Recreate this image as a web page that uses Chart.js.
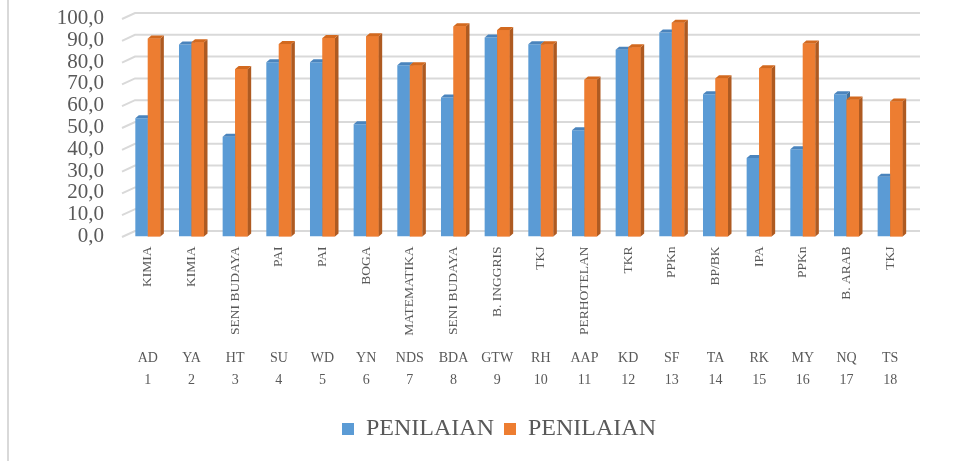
<!DOCTYPE html>
<html>
<head>
<meta charset="utf-8">
<script src="https://cdn.jsdelivr.net/npm/chart.js@4"></script>
<style>
  html, body { margin: 0; padding: 0; background: #fff; }
  #wrap { width: 976px; height: 461px; }
</style>
</head>
<body>
<div id="wrap"><canvas id="penilaianChart" width="976" height="461"></canvas></div>
<script>
const subjects = ["KIMIA", "KIMIA", "SENI BUDAYA", "PAI", "PAI", "BOGA", "MATEMATIKA", "SENI BUDAYA", "B. INGGRIS",
  "TKJ", "PERHOTELAN", "TKR", "PPKn", "BP/BK", "IPA", "PPKn", "B. ARAB", "TKJ"];
const initials = ["AD", "YA", "HT", "SU", "WD", "YN", "NDS", "BDA", "GTW", "RH", "AAP", "KD", "SF", "TA", "RK", "MY", "NQ", "TS"];
const numbers = ["1", "2", "3", "4", "5", "6", "7", "8", "9", "10", "11", "12", "13", "14", "15", "16", "17", "18"];
const penilaian1 = [54.3, 88.1, 45.7, 79.9, 79.9, 51.5, 78.6, 63.8, 91.3, 88.2, 48.7, 85.7, 93.6, 65.2, 36.0, 40.0, 65.2, 27.4];
const penilaian2 = [90.8, 89.1, 76.8, 88.3, 91.1, 91.9, 78.6, 96.4, 94.7, 88.2, 72.0, 86.8, 98.1, 72.6, 77.2, 88.5, 62.9, 61.9];
const yTickLabels = ["0,0", "10,0", "20,0", "30,0", "40,0", "50,0", "60,0", "70,0", "80,0", "90,0", "100,0"];

const serif = "'Liberation Serif', 'Times New Roman', serif";
const textColor = "#595959";

// fake 3d: back-wall gridlines, side + top faces of the columns, page frame line
const depthPlugin = {
  id: "depth",
  beforeDraw(chart) {
    const c = chart.ctx;
    c.save();
    c.strokeStyle = "#d9d9d9";
    c.lineWidth = 2;
    c.beginPath();
    c.moveTo(8, 0);
    c.lineTo(8, chart.height);
    c.stroke();
    c.restore();
  },
  beforeDatasetsDraw(chart) {
    const c = chart.ctx;
    const area = chart.chartArea;
    const y = chart.scales.y;
    c.save();
    c.strokeStyle = "#d9d9d9";
    c.lineWidth = 2;
    y.ticks.forEach(t => {
      const py = y.getPixelForValue(t.value);
      c.beginPath();
      c.moveTo(area.left - 4, py + 0.5);
      c.lineTo(area.left + 9, py - 5.5);
      c.lineTo(area.right + 8, py - 5.5);
      c.stroke();
    });
    c.restore();
  },
  afterDatasetsDraw(chart) {
    const c = chart.ctx;
    const dx = 3.5, dy = 3;
    const faces = [
      { front: "#5b9bd5", side: "#41719c", top: "#4a84bd" },
      { front: "#ed7d31", side: "#ae5a21", top: "#d2691f" }
    ];
    const metas = [chart.getDatasetMeta(0), chart.getDatasetMeta(1)];
    c.save();
    for (let i = 0; i < subjects.length; i++) {
      metas.forEach((meta, d) => {
        const bar = meta.data[i];
        const { x, y, width, base } = bar.getProps(["x", "y", "width", "base"], true);
        const l = x - width / 2, r = x + width / 2;
        if (d === 1) {
          c.fillStyle = faces[d].front;
          c.fillRect(l, y, width, base - y);
        }
        c.fillStyle = faces[d].side;
        c.beginPath();
        c.moveTo(r, y);
        c.lineTo(r + dx, y - dy);
        c.lineTo(r + dx, base - dy);
        c.lineTo(r, base);
        c.closePath();
        c.fill();
        c.fillStyle = faces[d].top;
        c.beginPath();
        c.moveTo(l, y);
        c.lineTo(l + dx, y - dy);
        c.lineTo(r + dx, y - dy);
        c.lineTo(r, y);
        c.closePath();
        c.fill();
      });
    }
    c.restore();
  }
};

const ctx = document.getElementById("penilaianChart").getContext("2d");
const chart = new Chart(ctx, {
  type: "bar",
  data: {
    labels: subjects,
    datasets: [
      {
        label: "PENILAIAN",
        data: penilaian1,
        backgroundColor: "#5b9bd5",
        borderWidth: 0,
        categoryPercentage: 0.573,
        barPercentage: 1
      },
      {
        label: "PENILAIAN",
        data: penilaian2,
        backgroundColor: "#ed7d31",
        borderWidth: 0,
        categoryPercentage: 0.573,
        barPercentage: 1
      }
    ]
  },
  options: {
    responsive: false,
    animation: false,
    devicePixelRatio: 1,
    layout: { padding: { top: 18.5, left: 22, right: 0, bottom: 10 } },
    plugins: {
      tooltip: { enabled: false },
      legend: {
        position: "bottom",
        labels: {
          boxWidth: 12,
          boxHeight: 12,
          padding: 10,
          color: textColor,
          font: { family: serif, size: 24 }
        }
      }
    },
    scales: {
      y: {
        min: 0,
        max: 100,
        ticks: {
          stepSize: 10,
          autoSkip: false,
          padding: 22,
          color: textColor,
          font: { family: serif, size: 21 },
          callback: (v, i) => yTickLabels[i]
        },
        grid: { display: false, drawTicks: false },
        border: { display: false },
        afterFit: s => {
          s.width = 104;
          s.paddingTop = 10;
          s.paddingBottom = 10;
        }
      },
      yR: {
        position: "right",
        ticks: { display: false },
        grid: { display: false, drawTicks: false },
        border: { display: false },
        afterFit: s => { s.width = 64; }
      },
      x: {
        offset: true,
        weight: 0,
        ticks: {
          autoSkip: false,
          minRotation: 90,
          maxRotation: 90,
          padding: 10,
          color: textColor,
          font: { family: serif, size: 13.5 }
        },
        grid: { display: false, drawTicks: false },
        border: { display: false },
        afterFit: s => { s.height = 111; }
      },
      x2: {
        type: "category",
        position: "bottom",
        labels: initials,
        offset: true,
        weight: 1,
        ticks: {
          autoSkip: false,
          maxRotation: 0,
          padding: 2,
          color: textColor,
          font: { family: serif, size: 14 }
        },
        grid: { display: false, drawTicks: false },
        border: { display: false },
        afterFit: s => { s.height = 22; }
      },
      x3: {
        type: "category",
        position: "bottom",
        labels: numbers,
        offset: true,
        weight: 2,
        ticks: {
          autoSkip: false,
          maxRotation: 0,
          padding: 2,
          color: textColor,
          font: { family: serif, size: 14 }
        },
        grid: { display: false, drawTicks: false },
        border: { display: false },
        afterFit: s => { s.height = 37.5; }
      }
    }
  },
  plugins: [depthPlugin]
});
</script>
</body>
</html>
